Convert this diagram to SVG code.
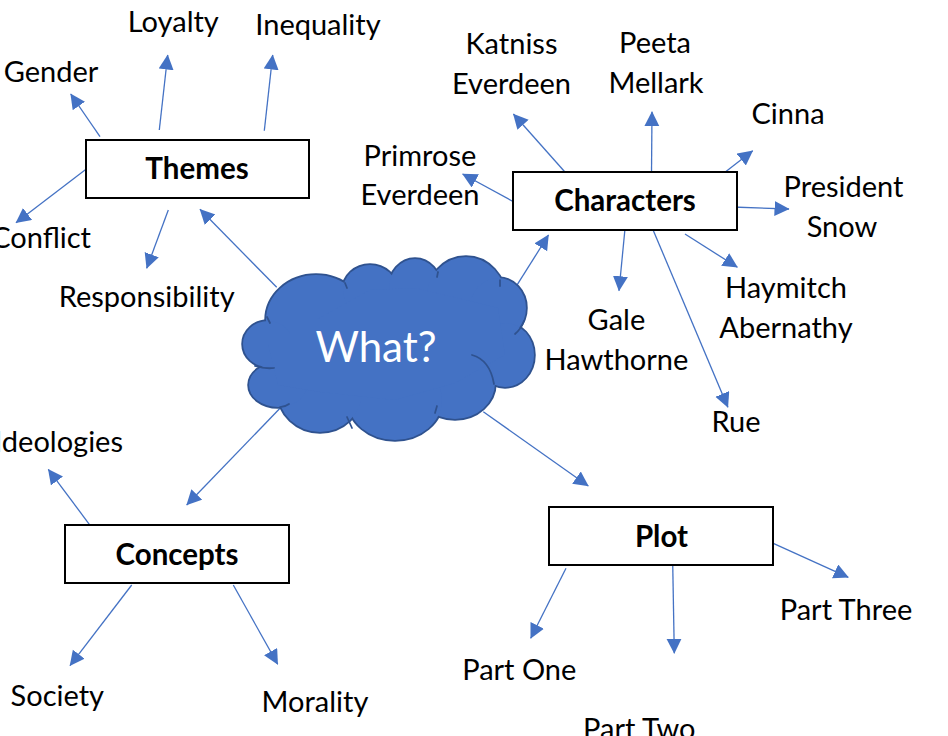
<svg xmlns="http://www.w3.org/2000/svg" width="948" height="736" viewBox="0 0 948 736">
<style>
.lbl{font-family:Lato,"Liberation Sans",sans-serif;font-size:29px;fill:#000;text-anchor:middle}
.box{fill:#fff;stroke:#000;stroke-width:2}
.btxt{font-family:Lato,"Liberation Sans",sans-serif;font-size:29.5px;font-weight:bold;fill:#000;text-anchor:middle}
.con line{stroke:#4472C4;stroke-width:1.3;marker-end:url(#ah)}
.cl-o{fill:#4472C4;stroke:#2F528F;stroke-width:3.5}
.cl-f{fill:#4472C4;stroke:none}
.tick{fill:none;stroke:#2F528F;stroke-width:1.75;stroke-linecap:round}
</style>
<defs>
<marker id="ah" markerUnits="userSpaceOnUse" markerWidth="16" markerHeight="16" refX="14.5" refY="7.5" orient="auto">
<path d="M0,0 L15,7.5 L0,15 z" fill="#4472C4"/>
</marker>
</defs>
<rect width="948" height="736" fill="#fff"/>
<g id="connectors" class="con">
<line x1="100" y1="136.7" x2="70.7" y2="94"/>
<line x1="159.3" y1="130" x2="167.7" y2="55"/>
<line x1="264.3" y1="130.7" x2="272.7" y2="55"/>
<line x1="86" y1="169.3" x2="16" y2="222.7"/>
<line x1="168.3" y1="210" x2="146.7" y2="268.3"/>
<line x1="276.7" y1="287.3" x2="200" y2="209.3"/>
<line x1="565.6" y1="172.7" x2="513.4" y2="114"/>
<line x1="651.5" y1="173.3" x2="652" y2="111.7"/>
<line x1="724" y1="173" x2="752.7" y2="150.7"/>
<line x1="731.7" y1="207" x2="789" y2="209"/>
<line x1="513.4" y1="201.7" x2="462.6" y2="174"/>
<line x1="516" y1="286.7" x2="548.5" y2="235"/>
<line x1="624.8" y1="230.7" x2="619" y2="290.7"/>
<line x1="653.4" y1="230.7" x2="727.9" y2="407.3"/>
<line x1="685" y1="234" x2="737.4" y2="267.3"/>
<line x1="89.3" y1="524.3" x2="48.3" y2="469.3"/>
<line x1="280" y1="408.3" x2="186.7" y2="505"/>
<line x1="131.7" y1="585" x2="70" y2="665.7"/>
<line x1="233.3" y1="585" x2="277.7" y2="664.3"/>
<line x1="483.3" y1="411.7" x2="588.3" y2="486"/>
<line x1="773.3" y1="543.3" x2="848.3" y2="577.3"/>
<line x1="566" y1="568.3" x2="530.7" y2="638.3"/>
<line x1="672.7" y1="562.7" x2="674.3" y2="653.3"/>
</g>
<g id="cloud">
<g class="cl-o">
<ellipse cx="316" cy="320" rx="50" ry="45"/>
<ellipse cx="370" cy="290" rx="27" ry="25"/>
<ellipse cx="415" cy="288" rx="26" ry="29"/>
<ellipse cx="466" cy="300" rx="40" ry="43"/>
<ellipse cx="498" cy="308" rx="28" ry="30"/>
<ellipse cx="505" cy="355" rx="29" ry="32"/>
<ellipse cx="455" cy="383" rx="40" ry="36"/>
<ellipse cx="395" cy="400" rx="47" ry="40"/>
<ellipse cx="320" cy="392" rx="42" ry="40"/>
<ellipse cx="278" cy="385" rx="29" ry="22"/>
<ellipse cx="268" cy="344" rx="25" ry="23"/>
</g>
<g class="cl-f">
<ellipse cx="316" cy="320" rx="50" ry="45"/>
<ellipse cx="370" cy="290" rx="27" ry="25"/>
<ellipse cx="415" cy="288" rx="26" ry="29"/>
<ellipse cx="466" cy="300" rx="40" ry="43"/>
<ellipse cx="498" cy="308" rx="28" ry="30"/>
<ellipse cx="505" cy="355" rx="29" ry="32"/>
<ellipse cx="455" cy="383" rx="40" ry="36"/>
<ellipse cx="395" cy="400" rx="47" ry="40"/>
<ellipse cx="320" cy="392" rx="42" ry="40"/>
<ellipse cx="278" cy="385" rx="29" ry="22"/>
<ellipse cx="268" cy="344" rx="25" ry="23"/>
<polygon points="316,320 370,290 415,288 466,300 498,308 505,355 455,383 395,400 320,392 278,385 268,344"/>
</g>
<path class="tick" d="M472,355 Q490,360 494,384"/>
<path class="tick" d="M524,321 Q521,329 515,334"/>
<path class="tick" d="M255,366 Q265,369 274,368"/>
<path class="tick" d="M280,407 Q285,407 289,404"/>
<path class="tick" d="M347,417 L352,428"/>
<path class="tick" d="M437,406 L435,413"/>
<path class="tick" d="M500,280 L500,286"/>
<path class="tick" d="M345,283 L347,288"/>
<path class="tick" d="M267,317 L270,323"/>
<path class="tick" d="M438,272 L437,277"/>
<text x="376" y="362" font-family="Lato,'Liberation Sans',sans-serif" font-size="42" fill="#fff" text-anchor="middle">What?</text>
</g>
<g id="themes">
<rect class="box" x="86" y="140" width="223" height="58"/>
<text class="btxt" x="197" y="179">Themes</text>
</g>
<g id="characters">
<rect class="box" x="513" y="172" width="224" height="58"/>
<text class="btxt" x="625" y="211">Characters</text>
</g>
<g id="concepts">
<rect class="box" x="65" y="525" width="224" height="58"/>
<text class="btxt" x="177" y="564.5">Concepts</text>
</g>
<g id="plot">
<rect class="box" x="549" y="507" width="224" height="58"/>
<text class="btxt" x="661.5" y="546.5">Plot</text>
</g>
<g id="loyalty"><text class="lbl" x="173.3" y="32.3">Loyalty</text></g>
<g id="inequality"><text class="lbl" x="318" y="35">Inequality</text></g>
<g id="gender"><text class="lbl" x="51" y="81.7">Gender</text></g>
<g id="conflict"><text class="lbl" x="91" y="248" style="text-anchor:end">Conflict</text></g>
<g id="responsibility"><text class="lbl" x="146.7" y="306.7">Responsibility</text></g>
<g id="katniss"><text class="lbl" x="511.5" y="54.3">Katniss</text><text class="lbl" x="511.5" y="94">Everdeen</text></g>
<g id="peeta"><text class="lbl" x="655" y="53">Peeta</text><text class="lbl" x="656" y="93">Mellark</text></g>
<g id="cinna"><text class="lbl" x="788" y="124">Cinna</text></g>
<g id="primrose"><text class="lbl" x="420" y="165.7">Primrose</text><text class="lbl" x="420" y="205">Everdeen</text></g>
<g id="snow"><text class="lbl" x="843.5" y="197.3">President</text><text class="lbl" x="842" y="237">Snow</text></g>
<g id="haymitch"><text class="lbl" x="786" y="298">Haymitch</text><text class="lbl" x="786" y="338">Abernathy</text></g>
<g id="gale"><text class="lbl" x="616.4" y="330">Gale</text><text class="lbl" x="616.4" y="370">Hawthorne</text></g>
<g id="rue"><text class="lbl" x="736" y="431.7">Rue</text></g>
<g id="ideologies"><text class="lbl" x="123" y="451.7" style="text-anchor:end">Ideologies</text></g>
<g id="society"><text class="lbl" x="57.3" y="706">Society</text></g>
<g id="morality"><text class="lbl" x="315" y="711.7">Morality</text></g>
<g id="part-three"><text class="lbl" x="846" y="620">Part Three</text></g>
<g id="part-one"><text class="lbl" x="519.3" y="680">Part One</text></g>
<g id="part-two"><text class="lbl" x="639.3" y="739">Part Two</text></g>
</svg>
